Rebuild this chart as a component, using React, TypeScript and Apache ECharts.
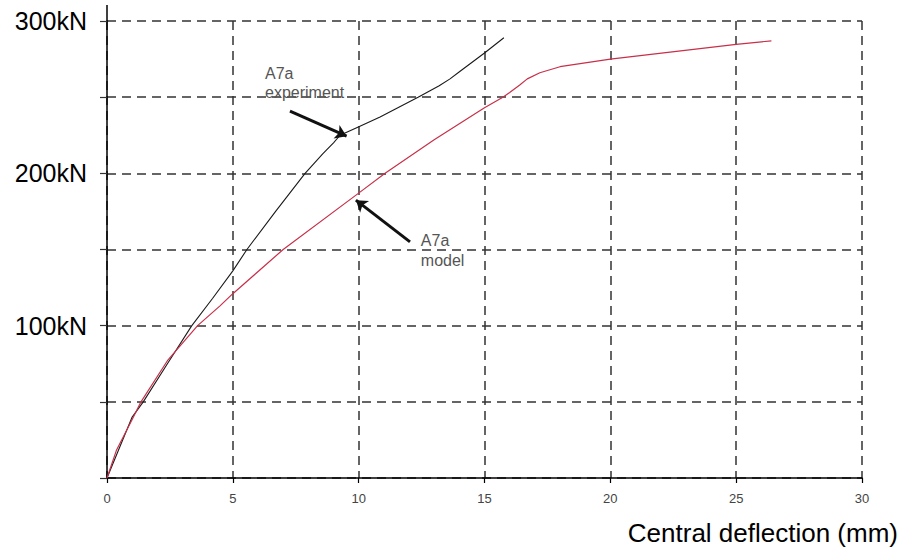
import React, { useEffect, useRef } from 'react';
import * as echarts from 'echarts';

const xTicks = [0, 5, 10, 15, 20, 25, 30];
const yLabelValues = [100, 200, 300];
const yUnit = 'kN';
const xTitle = 'Central deflection (mm)';

const experiment: [number, number][] = [
  [0, 0], [0.45, 18], [1.0, 40], [1.44, 50], [2.4, 75], [3.37, 100], [4.2, 118],
  [5.0, 136], [5.56, 150], [6.7, 175], [7.87, 200], [8.58, 213],
  [9.0, 220], [9.26, 225], [9.92, 230], [10.85, 237], [12.36, 250], [13.2, 257.5],
  [13.63, 262], [14.03, 267], [15.0, 279], [15.77, 289],
];

const model: [number, number][] = [
  [0, 0], [0.37, 18], [1.05, 40], [1.35, 50], [2.4, 77], [3.6, 100], [4.49, 113],
  [5.0, 121], [7.0, 150], [10.0, 187], [11.05, 200], [13.0, 222], [15.0, 243],
  [15.73, 250], [16.0, 253], [16.4, 258], [16.7, 262], [17.2, 266], [18.0, 270],
  [20.0, 275], [25.0, 284.7], [26.4, 287],
];

const expNote = { text: 'A7a\nexperiment', at: [6.28, 271.5], from: [7.27, 240.8], to: [9.52, 224.4] };
const modelNote = { text: 'A7a\nmodel', at: [12.47, 162.8], from: [12.04, 155], to: [9.89, 182.4] };

const FONT = '"Liberation Sans", Arial, Helvetica, sans-serif';

export default function App() {
  const ref = useRef<HTMLDivElement>(null);
  useEffect(() => {
    const chart = echarts.init(ref.current!, null, { renderer: 'svg' });
    const dashed = { color: '#333', width: 1.5, type: [9, 6] as number[] };
    const arrowLine = (n: any) => [
      { coord: n.from, symbol: 'none' },
      { coord: n.to, symbol: 'arrow' },
    ];
    chart.setOption({
      animation: false,
      backgroundColor: '#fff',
      textStyle: { fontFamily: FONT },
      grid: { left: 107, right: 39, top: 21, bottom: 82, containLabel: false },
      xAxis: {
        type: 'value', min: xTicks[0], max: xTicks[xTicks.length - 1], interval: 5,
        axisLine: { show: true, onZero: false, lineStyle: { color: '#000', width: 1.5 } },
        axisTick: { show: true, length: 5, lineStyle: { color: '#000', width: 1.2 } },
        axisLabel: { fontSize: 13, color: '#444', margin: 14, fontFamily: FONT },
        splitLine: { show: true, lineStyle: dashed },
      },
      yAxis: {
        type: 'value', min: 0, max: 300, interval: 50,
        axisLine: { show: true, lineStyle: { color: '#000', width: 1.5 } },
        axisTick: { show: true, length: 7, lineStyle: { color: '#333', width: 1.2 } },
        axisLabel: {
          fontSize: 25, color: '#000', margin: 20, fontFamily: FONT,
          formatter: (v: number) => (yLabelValues.includes(v) ? v + yUnit : ''),
        },
        splitLine: { show: true, lineStyle: dashed },
      },
      series: [
        {
          type: 'line', name: 'experiment', data: experiment, showSymbol: false,
          smooth: false,
          lineStyle: { color: '#1a1a1a', width: 1.1 },
          markLine: {
            silent: true, symbolSize: 11, label: { show: false },
            lineStyle: { color: '#111', width: 3, type: 'solid' },
            emphasis: { disabled: true },
            data: [arrowLine(expNote)],
          },
        },
        {
          type: 'line', name: 'model', data: model, showSymbol: false,
          smooth: false,
          lineStyle: { color: '#c8304a', width: 1.2 },
          markLine: {
            silent: true, symbolSize: 11, label: { show: false },
            lineStyle: { color: '#111', width: 3, type: 'solid' },
            emphasis: { disabled: true },
            data: [arrowLine(modelNote)],
          },
        },
      ],
    });
    const top = chart.convertToPixel({ gridIndex: 0 }, [0, 300]) as number[];
    const p1 = chart.convertToPixel({ gridIndex: 0 }, expNote.at) as number[];
    const p2 = chart.convertToPixel({ gridIndex: 0 }, modelNote.at) as number[];
    chart.setOption({
      graphic: [
        { type: 'line', shape: { x1: top[0], y1: 5, x2: top[0], y2: top[1] }, style: { stroke: '#000', lineWidth: 1.5 } },
        { type: 'text', x: p1[0], y: p1[1], style: { text: expNote.text, fontSize: 16, lineHeight: 19, fill: '#555', fontFamily: FONT } },
        { type: 'text', x: p2[0], y: p2[1], style: { text: modelNote.text, fontSize: 16, lineHeight: 20, fill: '#555', fontFamily: FONT } },
        { type: 'text', right: 3, top: 520, style: { text: xTitle, fontSize: 26, fill: '#000', fontFamily: FONT } },
      ],
    });
    return () => chart.dispose();
  }, []);
  return <div ref={ref} style={{ position: 'fixed', left: 0, top: 0, width: 901, height: 560 }} />;
}
